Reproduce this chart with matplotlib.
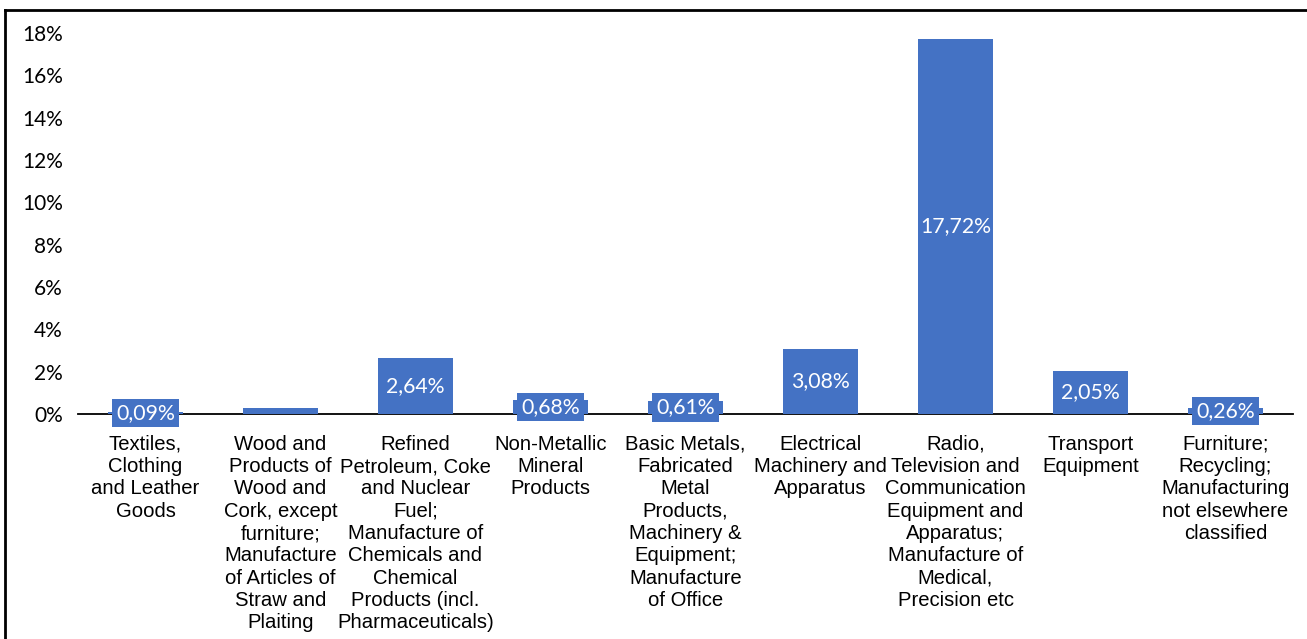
import matplotlib.pyplot as plt
from matplotlib.lines import Line2D

categories = [
    "Textiles,\nClothing\nand Leather\nGoods",
    "Wood and\nProducts of\nWood and\nCork, except\nfurniture;\nManufacture\nof Articles of\nStraw and\nPlaiting",
    "Refined\nPetroleum, Coke\nand Nuclear\nFuel;\nManufacture of\nChemicals and\nChemical\nProducts (incl.\nPharmaceuticals)",
    "Non-Metallic\nMineral\nProducts",
    "Basic Metals,\nFabricated\nMetal\nProducts,\nMachinery &\nEquipment;\nManufacture\nof Office",
    "Electrical\nMachinery and\nApparatus",
    "Radio,\nTelevision and\nCommunication\nEquipment and\nApparatus;\nManufacture of\nMedical,\nPrecision etc",
    "Transport\nEquipment",
    "Furniture;\nRecycling;\nManufacturing\nnot elsewhere\nclassified",
]
values = [0.09, 0.27, 2.64, 0.68, 0.61, 3.08, 17.72, 2.05, 0.26]
show_label = [True, False, True, True, True, True, True, True, True]
yticks = [0, 2, 4, 6, 8, 10, 12, 14, 16, 18]

BLUE = "#4472C4"
W, H = 1307, 639

fig = plt.figure(figsize=(W / 100, H / 100), dpi=100)
ax = fig.add_axes([78 / W, 225 / H, (1293 - 78) / W, (606 - 225) / H])

x = list(range(len(values)))
ax.bar(x, values, width=0.556, color=BLUE, zorder=2)
ax.set_xlim(-0.5, len(values) - 0.5)
ax.set_ylim(0, 18)

ax.set_yticks(yticks)
ax.set_yticklabels([f"{t}%" for t in yticks], fontfamily="Lato", fontsize=15)
ax.tick_params(axis="y", length=0, pad=11)
ax.set_xticks(x)
ax.set_xticklabels(categories, fontfamily="Liberation Sans", fontsize=14.6,
                   linespacing=1.22, va="top")
ax.tick_params(axis="x", length=0, pad=15)

for side in ["top", "right", "left"]:
    ax.spines[side].set_visible(False)
ax.spines["bottom"].set_linewidth(1.3)
ax.spines["bottom"].set_color("black")
ax.spines["bottom"].set_zorder(1)

# value labels; short bars get a filled box so the text stays readable
for xi, v, show in zip(x, values, show_label):
    if not show:
        continue
    txt = f"{v:.2f}".replace(".", ",") + "%"
    box = None
    if v < 1:
        box = dict(boxstyle="square,pad=0.2", facecolor=BLUE, edgecolor="none")
    ax.text(xi, v / 2, txt, ha="center", va="center", color="white",
            fontfamily="Lato", fontsize=15.3, zorder=3, bbox=box)

# chart frame (top and left edges)
fig.add_artist(Line2D([5 / W, 1], [1 - 10 / H, 1 - 10 / H], color="black", lw=2,
                      transform=fig.transFigure))
fig.add_artist(Line2D([5 / W, 5 / W], [0, 1 - 10 / H], color="black", lw=2,
                      transform=fig.transFigure))

fig.savefig("out.png", dpi=100)
